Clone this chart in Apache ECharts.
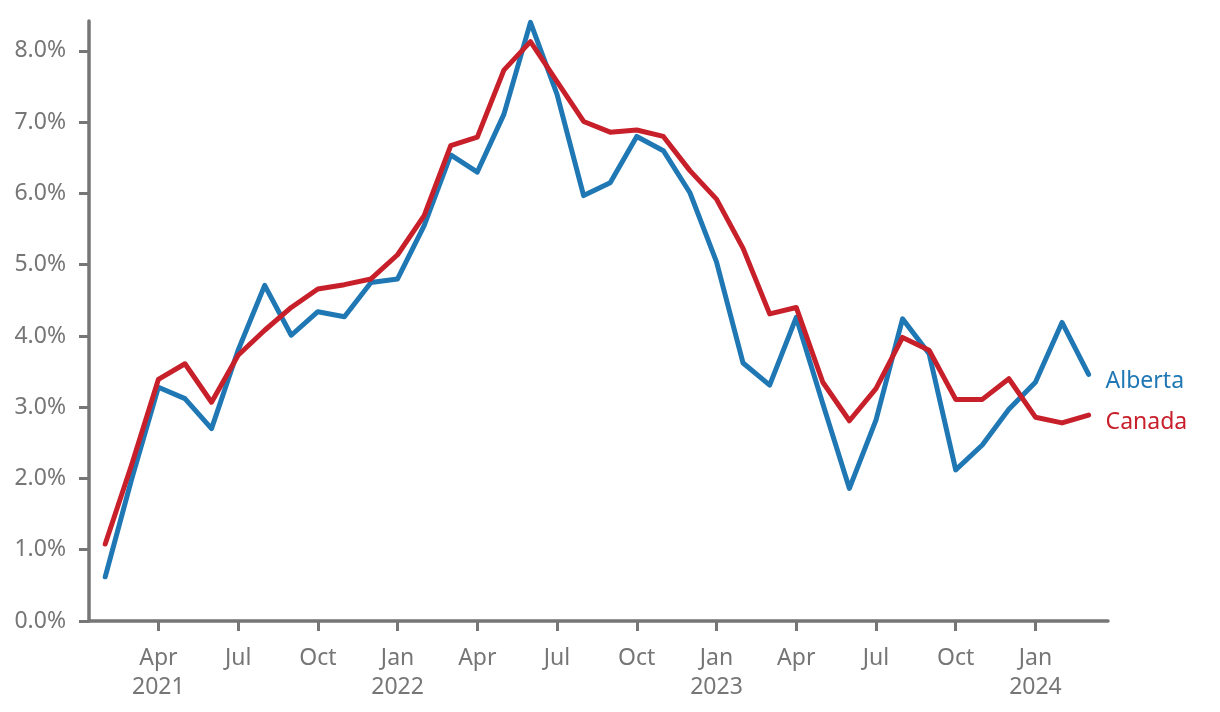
<!DOCTYPE html>
<html><head><meta charset="utf-8">
<script src="https://cdn.jsdelivr.net/npm/echarts@6/dist/echarts.min.js"></script>
<style>html,body{margin:0;padding:0;background:#fff}#c{width:1220px;height:712px}</style>
</head><body><div id="c"></div>
<script>
const months = ['2021-02','2021-03','2021-04','2021-05','2021-06','2021-07','2021-08','2021-09','2021-10','2021-11','2021-12',
  '2022-01','2022-02','2022-03','2022-04','2022-05','2022-06','2022-07','2022-08','2022-09','2022-10','2022-11','2022-12',
  '2023-01','2023-02','2023-03','2023-04','2023-05','2023-06','2023-07','2023-08','2023-09','2023-10','2023-11','2023-12',
  '2024-01','2024-02','2024-03'];
const alberta = [0.62,2.0,3.28,3.12,2.70,3.8,4.71,4.01,4.34,4.27,4.75,
  4.80,5.55,6.54,6.30,7.11,8.40,7.39,5.97,6.15,6.80,6.60,6.01,
  5.04,3.62,3.31,4.26,3.05,1.86,2.82,4.24,3.75,2.12,2.47,2.97,
  3.35,4.19,3.46];
const canada = [1.08,2.2,3.39,3.61,3.07,3.73,4.08,4.40,4.66,4.72,4.80,
  5.14,5.69,6.67,6.79,7.73,8.13,7.57,7.01,6.86,6.89,6.80,6.32,
  5.92,5.23,4.31,4.40,3.35,2.81,3.26,3.98,3.80,3.11,3.11,3.40,
  2.86,2.78,2.89];
const xTickMonths = ['2021-04','2021-07','2021-10','2022-01','2022-04','2022-07','2022-10','2023-01','2023-04','2023-07','2023-10','2024-01'];
const yTicks = [0,1,2,3,4,5,6,7,8];
const monthNames = {'01':'Jan','04':'Apr','07':'Jul','10':'Oct'};

const xTickIdx = xTickMonths.map(m => months.indexOf(m));
const gray = '#767676';
const blue = '#1f78b4';
const red = '#c8202a';
const font = "'Noto Sans', 'Open Sans', sans-serif";

function xLabel(v) {
  const m = months[Math.round(v)];
  if (!m) return '';
  const [yy, mm] = m.split('-');
  const name = monthNames[mm];
  if (mm === '01' || Math.round(v) === xTickIdx[0]) return name + '\n' + yy;
  return name;
}

const chart = echarts.init(document.getElementById('c'), null, {renderer: 'canvas'});
chart.setOption({
  animation: false,
  backgroundColor: '#fff',
  grid: {left: 89, right: 112, top: 21, bottom: 91, containLabel: false, outerBoundsMode: 'none'},
  xAxis: {
    type: 'value',
    min: -0.61, max: 37.73,
    splitLine: {show: false},
    axisLine: {show: true, onZero: false, lineStyle: {color: gray, width: 3.5}},
    axisTick: {show: true, customValues: xTickIdx, length: 10, lineStyle: {color: gray, width: 3}},
    axisLabel: {customValues: xTickIdx, formatter: xLabel, color: gray, fontSize: 23, fontFamily: font, lineHeight: 29, margin: 23}
  },
  yAxis: {
    type: 'value',
    min: 0, max: 8.42,
    splitLine: {show: false},
    axisLine: {show: true, onZero: false, lineStyle: {color: gray, width: 3.5}},
    axisTick: {show: true, customValues: yTicks, length: 10, lineStyle: {color: gray, width: 3}},
    axisLabel: {customValues: yTicks, formatter: v => v.toFixed(1) + '%', color: gray, fontSize: 23, fontFamily: font, margin: 23}
  },
  series: [
    {
      name: 'Alberta', type: 'line', symbol: 'none',
      data: alberta.map((v, i) => [i, v]),
      lineStyle: {color: blue, width: 5, cap: 'round', join: 'round'},
      itemStyle: {color: blue},
      endLabel: {show: true, formatter: '{a}', color: blue, fontSize: 23, fontFamily: font, distance: 17, offset: [0, 7]}
    },
    {
      name: 'Canada', type: 'line', symbol: 'none',
      data: canada.map((v, i) => [i, v]),
      lineStyle: {color: red, width: 5, cap: 'round', join: 'round'},
      itemStyle: {color: red},
      endLabel: {show: true, formatter: '{a}', color: red, fontSize: 23, fontFamily: font, distance: 17, offset: [0, 7]}
    }
  ]
});
</script>
</body></html>
